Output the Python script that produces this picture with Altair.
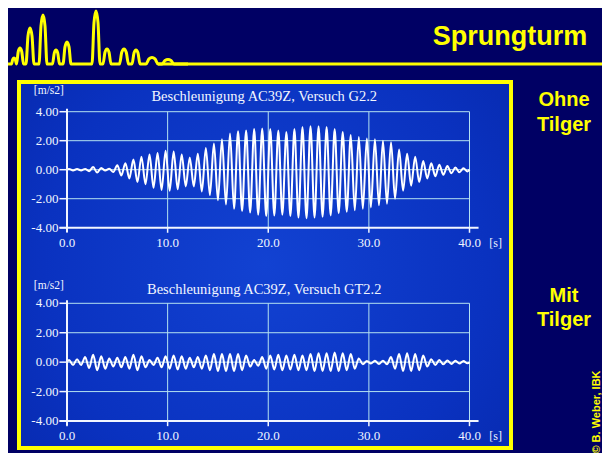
import altair as alt
import pandas as pd

W, H = 594, 445

# ---------------- data ----------------
TIME_TICKS = [0, 10, 20, 30, 40]
TIME_LABELS = ["0.0", "10.0", "20.0", "30.0", "40.0"]
ACC_TICKS = [4, 2, 0, -2, -4]
ACC_LABELS = ["4.00", "2.00", "0.00", "-2.00", "-4.00"]
GRID_ACC = [4, 2, 0, -2]
GRID_TIME = [10, 20, 30, 40]

PERIOD = 0.8          # s, one oscillation cycle
FIRST_PEAK = 0.2      # s
# "Ohne Tilger" (G2.2): positive and negative peak of every cycle [m/s2]
top_upper = [0.05, 0.04, 0.05, 0.18, 0.12, 0.06, 0.3, 0.45, 0.7, 0.9,
             1.05, 1.15, 1.3, 1.25, 1.05, 0.85, 1.1, 1.5, 1.8, 2.1,
             2.5, 2.65, 2.7, 2.8, 2.85, 2.8, 2.7, 2.6, 2.8, 2.95,
             3.0, 3.0, 2.95, 2.8, 2.6, 2.4, 2.25, 2.15, 2.1, 2.0,
             1.9, 1.4, 1.1, 0.9, 0.6, 0.45, 0.35, 0.25, 0.15, 0.1]
top_lower = [-0.05, -0.05, -0.1, -0.2, -0.06, -0.15, -0.4, -0.6, -0.85, -1.0,
             -1.25, -1.4, -1.45, -1.35, -1.15, -1.15, -1.5, -1.75, -2.1, -2.4,
             -2.7, -2.85, -2.95, -3.1, -3.2, -3.15, -3.1, -3.2, -3.3, -3.35,
             -3.3, -3.25, -3.15, -3.0, -2.9, -2.8, -2.7, -2.6, -2.45, -2.35,
             -2.0, -1.45, -1.1, -0.85, -0.6, -0.45, -0.35, -0.25, -0.18, -0.12]
# "Mit Tilger" (GT2.2)
bot_upper = [0.15, 0.2, 0.35, 0.5, 0.4, 0.25, 0.3, 0.35, 0.5, 0.4,
             0.15, 0.3, 0.4, 0.45, 0.4, 0.3, 0.35, 0.45, 0.55, 0.55,
             0.55, 0.55, 0.45, 0.15, 0.35, 0.45, 0.5, 0.45, 0.5, 0.45,
             0.55, 0.6, 0.6, 0.65, 0.6, 0.55, 0.25, 0.08, 0.1, 0.1,
             0.35, 0.55, 0.6, 0.55, 0.45, 0.2, 0.15, 0.12, 0.1, 0.08]
bot_lower = [-0.2, -0.2, -0.4, -0.55, -0.45, -0.3, -0.35, -0.45, -0.55, -0.35,
             -0.2, -0.35, -0.45, -0.5, -0.45, -0.35, -0.45, -0.55, -0.6, -0.6,
             -0.6, -0.55, -0.3, -0.25, -0.45, -0.5, -0.55, -0.5, -0.55, -0.55,
             -0.6, -0.6, -0.6, -0.6, -0.55, -0.45, -0.15, -0.1, -0.12, -0.15,
             -0.45, -0.6, -0.6, -0.55, -0.3, -0.2, -0.15, -0.12, -0.1, -0.08]

TITLE_TOP = "Beschleunigung AC39Z, Versuch G2.2"
TITLE_BOT = "Beschleunigung AC39Z, Versuch GT2.2"

# decorative logo spikes (position, height, half width)
LOGO_CENTER = [6, 12, 22, 35, 48, 59, 88, 99, 116, 128, 144, 160]
LOGO_HEIGHT = [6, 16, 36, 49, 14, 22, 53, 15, 15, 14, 6.5, 4.5]
LOGO_HALF = [2.5, 3.5, 4, 4, 3.5, 4, 4, 4, 4.5, 4, 6, 6]

# ---------------- styling ----------------
NAVY = "#000064"
YELLOW = "#ffff00"
GRID = "#b4e2f0"
WHITE = "#f2f6ff"
SERIF = "Liberation Serif"
SANS = "Liberation Sans"


def signal_df(upper, lower):
    rows = [{"t": 0.0, "a": 0.0}]
    for k, (u, l) in enumerate(zip(upper, lower)):
        rows.append({"t": FIRST_PEAK + PERIOD * k, "a": u})
        rows.append({"t": FIRST_PEAK + PERIOD * k + PERIOD / 2, "a": l})
    rows.append({"t": 40.0, "a": 0.0})
    return pd.DataFrame(rows)


def panel(upper, lower, title, y_top_px, y_bot_px, title_y, unit_y):
    xs = alt.Scale(domain=[0, 40], range=[59, 461.5], nice=False, zero=False)
    ys = alt.Scale(domain=[-4, 4], range=[y_bot_px, y_top_px], nice=False, zero=False)

    def X(f):
        return alt.X(f, type="quantitative", scale=xs, axis=None)

    def Y(f):
        return alt.Y(f, type="quantitative", scale=ys, axis=None)

    hgrid = alt.Chart(pd.DataFrame({"y": GRID_ACC, "x0": 0, "x1": 40})).mark_rule(
        color=GRID, strokeWidth=1).encode(x=X("x0"), x2="x1", y=Y("y"))
    vgrid = alt.Chart(pd.DataFrame({"x": GRID_TIME, "y0": -4, "y1": 4})).mark_rule(
        color=GRID, strokeWidth=1).encode(x=X("x"), y=Y("y0"), y2="y1")
    yaxis = alt.Chart(pd.DataFrame({"x": [0], "y0": [-4.3], "y1": [4.2]})).mark_rule(
        color=WHITE, strokeWidth=2).encode(x=X("x"), y=Y("y0"), y2="y1")
    xaxis = alt.Chart(pd.DataFrame({"y": [-4], "x0": [-0.75], "x1": [40.9]})).mark_rule(
        color=WHITE, strokeWidth=2).encode(x=X("x0"), x2="x1", y=Y("y"))
    ytick_df = pd.DataFrame({"y": ACC_TICKS, "label": ACC_LABELS, "x0": -0.75, "x1": 0})
    yticks = alt.Chart(ytick_df).mark_rule(color=WHITE, strokeWidth=1.5).encode(
        x=X("x0"), x2="x1", y=Y("y"))
    ylabels = alt.Chart(ytick_df).mark_text(
        align="right", baseline="middle", dx=-1, font=SERIF, fontSize=13, color=WHITE
    ).encode(x=X("x0"), y=Y("y"), text="label:N")
    xtick_df = pd.DataFrame({"x": TIME_TICKS, "label": TIME_LABELS, "y0": -4, "y1": -4.35})
    xticks = alt.Chart(xtick_df).mark_rule(color=WHITE, strokeWidth=1.5).encode(
        x=X("x"), y=Y("y0"), y2="y1")
    xlabels = alt.Chart(xtick_df).mark_text(
        align="center", baseline="middle", dy=15, font=SERIF, fontSize=13, color=WHITE
    ).encode(x=X("x"), y=Y("y0"), text="label:N")
    texts_df = pd.DataFrame({
        "x": [19.6, -1.8, 42.6],
        "y": [title_y, unit_y, -4],
        "label": [title, "[m/s2]", "[s]"],
    })
    ttl = alt.Chart(texts_df.iloc[[0]]).mark_text(
        align="center", baseline="middle", font=SERIF, fontSize=14.5, color=WHITE
    ).encode(x=X("x"), y=Y("y"), text="label:N")
    unit = alt.Chart(texts_df.iloc[[1]]).mark_text(
        align="center", baseline="middle", font=SERIF, fontSize=11.5, color=WHITE
    ).encode(x=X("x"), y=Y("y"), text="label:N")
    sunit = alt.Chart(texts_df.iloc[[2]]).mark_text(
        align="center", baseline="middle", dy=15, font=SERIF, fontSize=12, color=WHITE
    ).encode(x=X("x"), y=Y("y"), text="label:N")
    sig = alt.Chart(signal_df(upper, lower)).mark_line(
        color="#ffffff", strokeWidth=2, interpolate="monotone"
    ).encode(x=X("t"), y=Y("a"))
    return alt.layer(hgrid, vgrid, sig, yaxis, xaxis, yticks, xticks,
                     ylabels, xlabels, ttl, unit, sunit)


# ---------------- decoration ----------------
box = alt.Chart(pd.DataFrame({"a": [0]})).mark_rect(
    fill=alt.Gradient(
        gradient="radial",
        stops=[alt.GradientStop(color="#1242d2", offset=0),
               alt.GradientStop(color="#0a32c0", offset=0.6),
               alt.GradientStop(color="#0626a8", offset=1)],
        x1=0.5, y1=0.5, x2=0.5, y2=0.5, r1=0, r2=0.75),
    stroke=YELLOW, strokeWidth=4,
).encode(x=alt.value(11), x2=alt.value(503), y=alt.value(74), y2=alt.value(440))

topline = alt.Chart(pd.DataFrame({"a": [0]})).mark_rule(
    color=YELLOW, strokeWidth=3).encode(x=alt.value(150), x2=alt.value(W), y=alt.value(56))

logo_rows = [{"px": 0, "h": 0}]
for c, h, hw in zip(LOGO_CENTER, LOGO_HEIGHT, LOGO_HALF):
    logo_rows += [{"px": c - hw, "h": 0}, {"px": c - 0.5 * hw, "h": 0.78 * h},
                  {"px": c, "h": h}, {"px": c + 0.5 * hw, "h": 0.78 * h},
                  {"px": c + hw, "h": 0}]
logo_rows.append({"px": 180, "h": 0})
logo = alt.Chart(pd.DataFrame(logo_rows)).mark_line(
    color=YELLOW, strokeWidth=3, interpolate="monotone"
).encode(
    x=alt.X("px:Q", scale=alt.Scale(domain=[0, 200], range=[0, 200], nice=False, zero=False), axis=None),
    y=alt.Y("h:Q", scale=alt.Scale(domain=[0, 60], range=[56, -4], nice=False, zero=False), axis=None),
)


def label(txt, x, y, size, angle=0, baseline="alphabetic"):
    return alt.Chart(pd.DataFrame({"t": [txt]})).mark_text(
        text=txt, font=SANS, fontWeight="bold", fontSize=size, color=YELLOW,
        align="center", baseline=baseline, angle=angle,
    ).encode(x=alt.value(x), y=alt.value(y))


labels = [
    label("Sprungturm", 502, 37, 27),
    label("Ohne", 556, 98, 20),
    label("Tilger", 556, 123, 20),
    label("Mit", 556, 294, 20),
    label("Tilger", 556, 318, 20),
    label("© B. Weber, IBK", 589, 404, 11, angle=270, baseline="middle"),
]

top = panel(top_upper, top_lower, TITLE_TOP, 103.7, 219.7, 5.0, 5.43)
bot = panel(bot_upper, bot_lower, TITLE_BOT, 295.3, 413.0, 4.9, 5.17)

chart = alt.layer(box, topline, logo, *labels, top, bot).resolve_scale(
    x="independent", y="independent"
).properties(
    width=W, height=H, autosize=alt.AutoSizeParams(type="none"), padding=0
).configure(background=NAVY).configure_view(stroke=None)

chart.save("out.html", embed_options={"renderer": "svg", "actions": False})
